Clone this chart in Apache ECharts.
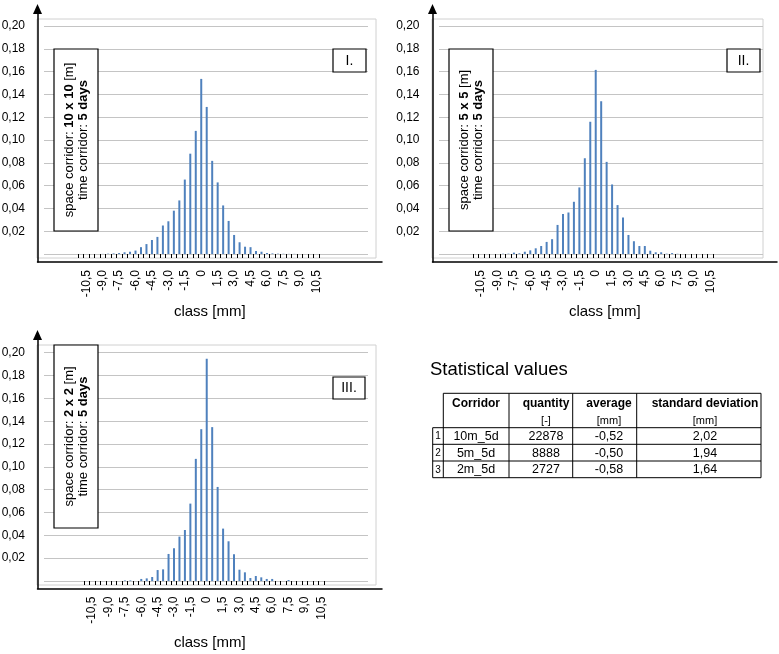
<!DOCTYPE html>
<html><head><meta charset="utf-8">
<script src="https://cdn.jsdelivr.net/npm/echarts@6/dist/echarts.min.js"></script>
<style>html,body{margin:0;padding:0;background:#fff}#c{width:779px;height:654px}</style>
</head><body><div id="c"></div>
<script>
// ---------------- DATA ----------------
const classes = [-11.0,-10.5,-10.0,-9.5,-9.0,-8.5,-8.0,-7.5,-7.0,-6.5,
  -6.0,-5.5,-5.0,-4.5,-4.0,-3.5,-3.0,-2.5,-2.0,-1.5,
  -1.0,-0.5,0,0.5,1.0,1.5,2.0,2.5,3.0,3.5,
  4.0,4.5,5.0,5.5,6.0,6.5,7.0,7.5,8.0,8.5,
  9.0,9.5,10.0,10.5];
const tickLabels = ['-10,5','-9,0','-7,5','-6,0','-4,5','-3,0','-1,5','0','1,5','3,0','4,5','6,0','7,5','9,0','10,5'];
const shareI = [0,0,0,0,0.0001,0.0003,0.0005,0.0008,0.0015,0.002,
  0.003,0.006,0.0087,0.0123,0.015,0.025,0.0287,0.038,0.047,0.0653,
  0.088,0.108,0.1536,0.129,0.0817,0.0628,0.0426,0.029,0.0167,0.0103,
  0.0064,0.006,0.0026,0.002,0.0009,0.0005,0.0003,0.0002,0.0001,0.0001,
  0,0,0,0];
const shareII = [0,0,0,0,0,0.0003,0.0003,0.0012,0.0006,0.002,
  0.0032,0.005,0.007,0.0106,0.013,0.0255,0.035,0.0364,0.0458,0.0584,
  0.084,0.116,0.1615,0.134,0.0808,0.061,0.0429,0.032,0.0167,0.0112,
  0.007,0.007,0.0029,0.0015,0.0015,0.0003,0.0008,0.0002,0.0001,0,
  0,0,0,0];
const shareIII = [0,0,0,0,0,0,0,0.0005,0.0005,0,
  0.0018,0.0023,0.0035,0.0096,0.0102,0.0237,0.0287,0.0389,0.0447,0.0678,
  0.107,0.133,0.1947,0.1348,0.0824,0.0459,0.0348,0.0234,0.0099,0.0076,
  0.0026,0.0044,0.0032,0.0018,0.0018,0,0,0.0009,0,0,
  0,0,0,0];
const yMin = 0, yMax = 0.2, yStep = 0.02;
const panelNames = ['I.','II.','III.'];
const spaceCorridors = ['10 x 10','5 x 5','2 x 2'];
const timeCorridors = ['5 days','5 days','5 days'];
const xTitle = 'class [mm]';

const tableTitle = 'Statistical values';
const tableHeaders = ['Corridor','quantity','average','standard deviation'];
const tableUnits = ['','[-]','[mm]','[mm]'];
const corridors = ['10m_5d','5m_5d','2m_5d'];
const quantities = ['22878','8888','2727'];
const averages = ['-0,52','-0,50','-0,58'];
const stdDevs = ['2,02','1,94','1,64'];

// ---------------- LAYOUT ----------------
const FONT = '"Liberation Sans", Arial, sans-serif';
const layouts = [
  {axisX:37.5, tip:4, axisBottom:262, axisRight:382, plotLeft:44, plotRight:368, y0:254, y20:26,
   border:[37,19,339,239], barLeft:78, barW:241, tbox:[54,49,44,182], rbox:[333,49,33,23], labelRight:25, nameGap:42},
  {axisX:432.5, tip:4, axisBottom:262, axisRight:777, plotLeft:439, plotRight:763, y0:254, y20:26,
   border:[432,19,331,239], barLeft:473, barW:240, tbox:[449,49,44,182], rbox:[727,49,33,23], labelRight:419.5, nameGap:42},
  {axisX:37.5, tip:330, axisBottom:588.5, axisRight:382, plotLeft:44, plotRight:368, y0:581, y20:352.7,
   border:[37,345,339,240], barLeft:84, barW:240, tbox:[54,345,44,183], rbox:[333,377,32,22], labelRight:25, nameGap:47}
];
const seriesData = [shareI, shareII, shareIII];

const fmtClass = v => v === 0 ? '0' : v.toFixed(1).replace('.', ',');
const catData = classes.map(fmtClass);
const labelSet = new Set(tickLabels);

const grid = [], xAxis = [], yAxis = [], series = [], graphic = [];
layouts.forEach((L, i) => {
  const base = i * 3;
  const arrowH = 10;
  // Grid A: black axes with arrow
  grid.push({left:L.axisX, top:L.tip + arrowH/2, width:L.axisRight - L.axisX, height:L.axisBottom - L.tip - arrowH/2, outerBoundsMode:'none'});
  xAxis.push({gridIndex:base, type:'value', min:0, max:1,
    axisLine:{show:true, onZero:false, lineStyle:{color:'#000', width:1.5}},
    axisTick:{show:false}, axisLabel:{show:false}, splitLine:{show:false},
    name:xTitle, nameLocation:'middle', nameGap:L.nameGap,
    nameTextStyle:{fontSize:15, color:'#000', fontFamily:FONT}});
  yAxis.push({gridIndex:base, type:'value', min:0, max:1,
    axisLine:{show:true, onZero:false, symbol:['none','triangle'], symbolSize:[9,arrowH], lineStyle:{color:'#000', width:1.5}},
    axisTick:{show:false}, axisLabel:{show:false}, splitLine:{show:false}});
  // Grid P: value gridlines + y labels
  grid.push({left:L.plotLeft, top:L.y20, width:L.plotRight - L.plotLeft, height:L.y0 - L.y20, outerBoundsMode:'none'});
  xAxis.push({gridIndex:base+1, type:'value', show:false});
  yAxis.push({gridIndex:base+1, type:'value', min:yMin, max:yMax, interval:yStep,
    axisLine:{show:false}, axisTick:{show:false},
    axisLabel:{margin:L.plotLeft - L.labelRight, color:'#000', fontSize:12, fontFamily:FONT,
      formatter: v => v === 0 ? '' : v.toFixed(2).replace('.', ',')},
    splitLine:{show:true, lineStyle:{color:'#c4c4c4', width:1}}});
  // Grid B: bars on class axis
  grid.push({left:L.barLeft, top:L.y20, width:L.barW, height:L.y0 - L.y20, outerBoundsMode:'none'});
  xAxis.push({gridIndex:base+2, type:'category', data:catData, offset:L.axisBottom - L.y0,
    axisLine:{show:false},
    axisTick:{show:true, interval:0, length:4, lineStyle:{color:'#000', width:1}},
    axisLabel:{interval:(idx, val) => labelSet.has(val), rotate:90, margin:8, color:'#000', fontSize:12, fontFamily:FONT},
    splitLine:{show:false}});
  yAxis.push({gridIndex:base+2, type:'value', min:yMin, max:yMax, show:false});
  series.push({type:'bar', xAxisIndex:base+2, yAxisIndex:base+2, data:seriesData[i], barWidth:2,
    itemStyle:{color:'#4f81bd'}, silent:true});

  // Decorations
  const [bx,by,bw,bh] = L.border;
  graphic.push({type:'rect', shape:{x:bx,y:by,width:bw,height:bh}, style:{fill:'none', stroke:'#d0d0d0', lineWidth:1}, z:-1, silent:true});
  const [tx,ty,tw,th] = L.tbox;
  graphic.push({type:'rect', shape:{x:tx,y:ty,width:tw,height:th}, style:{fill:'#fff', stroke:'#000', lineWidth:1.2}, z:10, silent:true});
  graphic.push({type:'text', x:tx + tw/2 + 0.5, y:ty + th/2, rotation:Math.PI/2, z:11, silent:true,
    style:{text:'{n|space corridor: }{b|' + spaceCorridors[i] + '}{n| [m]}\n{n|time corridor: }{b|' + timeCorridors[i] + '}',
      rich:{n:{fontSize:13, fontFamily:FONT, lineHeight:14, fill:'#000'}, b:{fontSize:13, fontWeight:'bold', fontFamily:FONT, lineHeight:14, fill:'#000'}},
      align:'center', verticalAlign:'middle', fill:'#000'}});
  const [rx,ry,rw,rh] = L.rbox;
  graphic.push({type:'rect', shape:{x:rx,y:ry,width:rw,height:rh}, style:{fill:'#fff', stroke:'#000', lineWidth:1.2}, z:10, silent:true});
  graphic.push({type:'text', x:rx + rw/2, y:ry + rh/2 + 0.5, z:11, silent:true,
    style:{text:panelNames[i], fontSize:14, fontFamily:FONT, fill:'#000', align:'center', verticalAlign:'middle'}});
});

// Table
const colX = [432.7, 443.3, 509, 572.7, 636.7, 761];
const rowY = [393.3, 427.7, 444.3, 461, 477.7];
const colC = [476, 546, 609, 705];
graphic.push({type:'text', x:430, y:370, silent:true,
  style:{text:tableTitle, fontSize:18.5, fontFamily:FONT, fill:'#000', align:'left', verticalAlign:'middle'}});
const line = (x1,y1,x2,y2) => ({type:'line', silent:true, shape:{x1,y1,x2,y2}, style:{stroke:'#000', lineWidth:1}});
graphic.push(line(colX[1], rowY[0], colX[5], rowY[0]));
for (let r = 1; r < rowY.length; r++) graphic.push(line(colX[0], rowY[r], colX[5], rowY[r]));
graphic.push(line(colX[0], rowY[1], colX[0], rowY[4]));
for (let c = 1; c < colX.length; c++) graphic.push(line(colX[c], rowY[0], colX[c], rowY[4]));
tableHeaders.forEach((h, c) => {
  graphic.push({type:'text', x:colC[c], y:403.5, silent:true,
    style:{text:h, fontSize:12, fontWeight:'bold', fontFamily:FONT, fill:'#000', align:'center', verticalAlign:'middle'}});
  if (tableUnits[c]) graphic.push({type:'text', x:colC[c], y:420.5, silent:true,
    style:{text:tableUnits[c], fontSize:11, fontFamily:FONT, fill:'#000', align:'center', verticalAlign:'middle'}});
});
const cols = [corridors, quantities, averages, stdDevs];
for (let r = 0; r < 3; r++) {
  const yc = (rowY[r+1] + rowY[r+2]) / 2 + 0.5;
  graphic.push({type:'text', x:(colX[0]+colX[1])/2, y:yc, silent:true,
    style:{text:String(r+1), fontSize:10, fontFamily:FONT, fill:'#000', align:'center', verticalAlign:'middle'}});
  cols.forEach((arr, c) => graphic.push({type:'text', x:colC[c], y:yc, silent:true,
    style:{text:arr[r], fontSize:12.5, fontFamily:FONT, fill:'#000', align:'center', verticalAlign:'middle'}}));
}

const chart = echarts.init(document.getElementById('c'), null, {renderer:'canvas'});
chart.setOption({
  backgroundColor:'#fff',
  animation:false,
  textStyle:{fontFamily:FONT},
  grid, xAxis, yAxis, series, graphic
});
</script></body></html>
